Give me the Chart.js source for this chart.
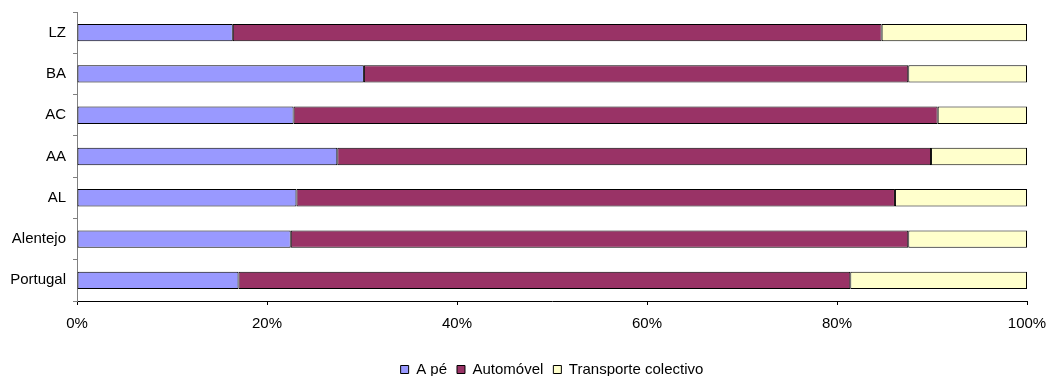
<!DOCTYPE html>
<html>
<head>
<meta charset="utf-8">
<script src="https://cdn.jsdelivr.net/npm/chart.js@4/dist/chart.umd.min.js"></script>
<style>
  html, body { margin: 0; padding: 0; background: #fff; }
  #wrap { width: 1048px; height: 376px; }
</style>
</head>
<body>
<div id="wrap"><canvas id="chart"></canvas></div>
<script>
// categorias (de cima para baixo)
const categorias = ["LZ", "BA", "AC", "AA", "AL", "Alentejo", "Portugal"];

// percentagens
const aPe = [16.4, 30.2, 22.8, 27.4, 23.1, 22.5, 17.0];
const automovel = [68.3, 57.3, 67.8, 62.5, 63.0, 65.0, 64.4];
const transporteColectivo = [15.3, 12.5, 9.4, 10.1, 13.9, 12.5, 18.6];

const xTicks = [0, 20, 40, 60, 80, 100];

const fonte = { family: "'Liberation Sans', Arial, sans-serif", size: 15 };

function serie(label, data, cor) {
  return {
    label: label,
    data: data,
    backgroundColor: cor,
    borderColor: "#000",
    borderWidth: 1,
    borderSkipped: false,
    categoryPercentage: 1.0,
    barPercentage: 0.42
  };
}

// encolhe a caixa da legenda para a empurrar mais para baixo
const ajusteLegenda = {
  id: "ajusteLegenda",
  beforeLayout(chart) {
    const lg = chart.legend;
    if (!lg || lg._ajustada) return;
    const fitOrig = lg.fit;
    lg.fit = function () {
      fitOrig.call(this);
      this.height -= 11;
    };
    lg._ajustada = true;
  }
};

new Chart(document.getElementById("chart"), {
  type: "bar",
  data: {
    labels: categorias,
    datasets: [
      serie("A pé", aPe, "#9999FF"),
      serie("Automóvel", automovel, "#993366"),
      serie("Transporte colectivo", transporteColectivo, "#FFFFCC")
    ]
  },
  plugins: [ajusteLegenda],
  options: {
    indexAxis: "y",
    responsive: true,
    maintainAspectRatio: false,
    animation: false,
    layout: { padding: { top: 12, right: 21, bottom: 0, left: 0 } },
    plugins: {
      tooltip: { enabled: false },
      legend: {
        position: "bottom",
        fullSize: false,
        labels: {
          font: fonte,
          color: "#000",
          boxWidth: 8,
          boxHeight: 8,
          padding: 10
        }
      }
    },
    scales: {
      x: {
        stacked: true,
        min: 0,
        max: 100,
        afterBuildTicks: s => { s.ticks = xTicks.map(v => ({ value: v })); },
        afterFit: s => {
          s.height += 9;
          s.paddingLeft = 0;
          s.paddingRight = 0;
        },
        ticks: {
          font: fonte,
          color: "#000",
          padding: 10,
          callback: v => v + "%"
        },
        grid: { drawOnChartArea: false, tickLength: 4, color: "#000" },
        border: { color: "#000", width: 1 }
      },
      y: {
        stacked: true,
        afterFit: s => {
          s.width = 77;
          s.paddingTop = 0;
          s.paddingBottom = 0;
        },
        ticks: { font: fonte, color: "#000", padding: 7 },
        grid: { drawOnChartArea: false, offset: true, tickLength: 4, color: "#808080" },
        border: { color: "#808080", width: 1 }
      }
    }
  }
});
</script>
</body>
</html>
